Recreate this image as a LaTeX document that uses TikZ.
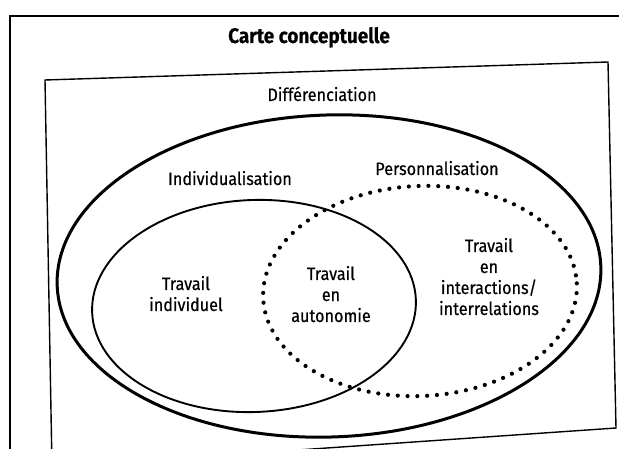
\documentclass[tikz,border=0pt]{standalone}
\usepackage{fontspec}
\newfontfamily\lbl[FakeStretch=0.9,FakeBold=0.4]{Fira Sans}
\begin{document}
\begin{tikzpicture}[x=1pt,y=-1pt,
  frame/.style={line width=2.5pt},
  innerbox/.style={line width=1.4pt},
  bigoval/.style={line width=3pt},
  solidoval/.style={line width=1.9pt},
  dotoval/.style={line width=4.2pt,line cap=round,dash pattern=on 0pt off 9.8pt},
  lab/.style={font=\lbl\fontsize{18}{21}\selectfont,inner sep=0pt,anchor=base,align=center},
  ttl/.style={font=\lbl\bfseries\fontsize{21}{24}\selectfont,inner sep=0pt,anchor=base}]
\useasboundingbox (0,0) rectangle (619,449);
\fill[white] (0,0) rectangle (619,449);
% outer frame
\coordinate (fbl) at (10,460);
\coordinate (ftl) at (10,16);
\coordinate (ftr) at (630,16);
\draw[frame] (fbl) -- (ftl) -- (ftr);
% inner box
\coordinate (btl) at (45,80);
\coordinate (btr) at (608,62);
\coordinate (bbr) at (616,428);
\coordinate (bbl) at (52,467);
\draw[innerbox] (btl) -- (btr) -- (bbr) -- (bbl) -- cycle;
% ellipses
\draw[bigoval,rotate around={2:(329,276)}] (329,276) ellipse [x radius=272, y radius=161];
\draw[solidoval,rotate around={2.3:(254,306)}] (254,306) ellipse [x radius=162, y radius=106];
\draw[dotoval,rotate around={2.8:(420,291)}] (420,291) ellipse [x radius=157, y radius=105];
% texts
\node[ttl] (title) at (309,43) {Carte conceptuelle};
\node[lab] (diff) at (322,101) {Différenciation};
\node[lab] (indiv) at (230,185) {Individualisation};
\node[lab] (perso) at (437,175) {Personnalisation};
\node[lab] (ti) at (186,311) {Travail\\individuel};
\node[lab] (ta) at (331,322) {Travail\\en\\autonomie};
\node[lab] (tr) at (489,315) {Travail\\en\\interactions/\\interrelations};
\end{tikzpicture}
\end{document}
